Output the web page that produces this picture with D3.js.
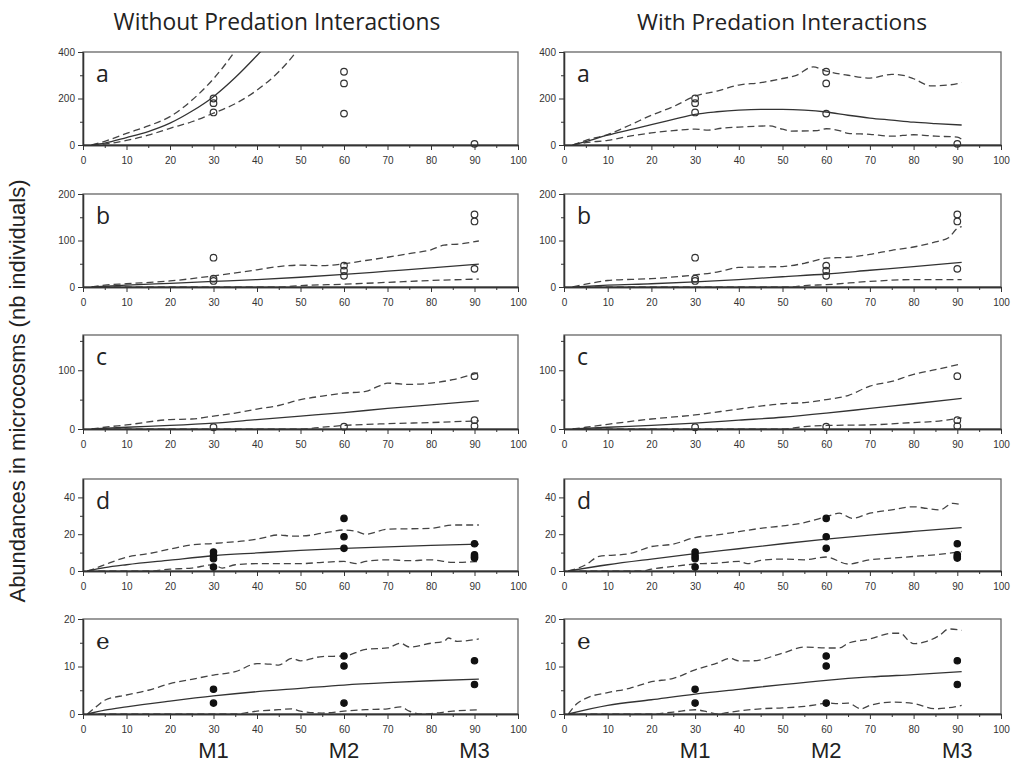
<!DOCTYPE html>
<html><head><meta charset="utf-8">
<script src="https://cdn.jsdelivr.net/npm/d3@7"></script>
<style>body{margin:0;background:#fff}svg{display:block}</style>
</head><body>
<svg id="chart" width="1011" height="764"></svg>
<script>
// ---------- data ----------
const panelLetters = ["a","b","c","d","e"];
const columnTitles = ["Without Predation Interactions","With Predation Interactions"];
const yAxisTitle = "Abundances in microcosms (nb individuals)";
const samplingLabels = ["M1","M2","M3"];
const samplingDays = [30,60,90];
const xMajorTicks = [0,10,20,30,40,50,60,70,80,90,100];
const xMinorTicks = [5,15,25,35,45,55,65,75,85,95];

const yMax = [400,200,160,50,20];
const yMajorTicks = [[0,200,400],[0,100,200],[0,100],[0,20,40],[0,10,20]];
const yMinorTicks = [[100,300],[50,150],[50,150],[10,30],[5,15]];

// panel a
const aNoMean  = [[2,0],[5,8],[10,32],[15,58],[20,94],[25,145],[30,208],[35,290],[40,385],[42,425]];
const aNoUpper = [[2,0],[5,16],[10,50],[15,82],[20,122],[25,192],[30,285],[35,405],[37,460]];
const aNoLower = [[2,0],[5,4],[10,20],[15,42],[20,72],[25,100],[30,137],[35,178],[40,236],[45,315],[49,400],[50,425]];
const aYesMean  = [[2,0],[5,15],[10,42],[15,65],[20,88],[25,110],[30,132],[35,143],[40,150],[45,153],[50,153],[55,150],[60,142],[65,128],[70,116],[75,107],[80,98],[85,92],[91,86]];
const aYesUpper = [[2,0],[5,20],[10,45],[15,85],[20,128],[25,165],[30,210],[35,232],[40,258],[45,268],[50,286],[53,298],[57,336],[60,318],[65,300],[70,288],[75,304],[78,298],[80,285],[84,254],[88,258],[91,268]];
const aYesLower = [[2,0],[5,10],[10,20],[15,38],[20,52],[25,62],[30,68],[33,64],[36,72],[40,77],[47,82],[50,68],[52,60],[58,62],[60,70],[63,62],[65,50],[70,46],[75,38],[80,44],[85,38],[90,34],[91,25]];
const obsA = [[30,200],[30,180],[30,140],[60,315],[60,265],[60,135],[90,5]];

// panel b
const bNoMean  = [[2,0],[10,4],[20,8],[30,12],[40,16],[50,21],[60,27],[70,34],[80,41],[91,49]];
const bNoUpper = [[2,0],[5,4],[10,7],[20,13],[30,24],[40,37],[45,44],[50,47],[55,46],[60,50],[65,57],[70,64],[75,72],[80,80],[83,90],[87,93],[91,99]];
const bNoLower = [[2,0],[45,0],[50,3],[60,6],[70,10],[80,14],[91,17]];
const bYesMean  = [[2,0],[10,4],[20,7],[30,11],[40,16],[50,22],[60,28],[70,36],[80,44],[91,53]];
const bYesUpper = [[2,0],[5,6],[10,14],[20,18],[30,26],[35,32],[40,42],[50,44],[55,51],[60,62],[65,64],[70,70],[75,79],[80,86],[85,97],[88,106],[90,126],[91,130]];
const bYesLower = [[2,0],[52,0],[55,3],[60,5],[70,12],[80,16],[91,16]];
const obsB = [[30,63],[30,18],[30,13],[60,46],[60,35],[60,24],[90,156],[90,141],[90,39]];

// panel c
const cNoMean  = [[2,0],[10,3],[20,6],[30,10],[40,16],[50,22],[60,28],[70,35],[80,41],[91,48]];
const cNoUpper = [[2,0],[5,3],[10,7],[20,16],[25,17],[30,22],[35,27],[40,34],[45,40],[50,50],[55,56],[60,61],[65,64],[68,73],[70,78],[75,76],[80,78],[85,84],[91,96]];
const cNoLower = [[2,0],[50,0],[55,3],[60,6],[70,9],[80,11],[91,14]];
const cYesMean  = [[2,0],[10,3],[20,6],[30,10],[40,15],[50,20],[60,27],[70,35],[80,43],[91,52]];
const cYesUpper = [[2,0],[5,3],[10,8],[20,17],[30,24],[40,34],[50,43],[55,45],[60,50],[65,57],[70,73],[75,81],[80,93],[85,101],[91,111]];
const cYesLower = [[2,0],[50,0],[55,4],[60,6],[70,7],[80,11],[85,13],[91,19]];
const obsC = [[30,3],[60,4],[90,90],[90,15],[90,5]];

// panel d
const dNoMean  = [[1,0],[5,1.8],[10,3.4],[20,5.9],[30,8.3],[40,9.8],[50,11.2],[60,12.3],[70,13.1],[80,13.9],[91,14.6]];
const dNoUpper = [[1,0],[3,1.6],[5,3.4],[10,7.5],[15,9.4],[20,11.9],[25,14.2],[30,15],[40,17.3],[45,19.6],[48,19],[50,19],[55,20.5],[60,22.3],[63,21.4],[65,20],[70,22.7],[80,23.2],[85,25],[91,25]];
const dNoLower = [[1,0],[15,0],[20,1],[25,1.6],[30,3.4],[32,1.6],[35,3.4],[40,4],[50,4],[55,4.7],[60,5.2],[63,4],[65,5.2],[70,6.1],[75,5.6],[80,6.1],[85,4.7],[91,5.2]];
const dYesMean  = [[1,0],[10,3.4],[20,6.5],[30,9.4],[40,12.1],[50,14.8],[60,17.3],[70,19.5],[80,21.5],[91,23.6]];
const dYesUpper = [[1,0],[5,3.4],[8,7.9],[15,9.4],[20,13.3],[25,14.6],[30,18.2],[35,19.6],[40,21.4],[45,23.2],[50,24.5],[55,26.3],[60,29.5],[63,31.4],[66,28.6],[70,31.4],[75,33.2],[80,34.9],[83,34],[86,33.2],[89,36.8],[91,36]];
const dYesLower = [[1,0],[18,0],[20,1],[25,2.5],[30,3.8],[35,4.3],[40,5.2],[42,4],[45,5.8],[50,6.5],[55,6.1],[60,7.6],[65,3.8],[70,6.1],[75,7],[80,7.9],[85,8.8],[91,10.6]];
const obsD = [[30,10.3],[30,8.3],[30,6.7],[30,2.2],[60,28.6],[60,18.6],[60,12.3],[90,14.8],[90,8.8],[90,7.8],[90,7]];

// panel e
const eNoMean  = [[1,0],[5,0.8],[10,1.5],[20,2.7],[30,3.8],[40,4.7],[50,5.4],[60,6.1],[70,6.6],[80,7],[91,7.35]];
const eNoUpper = [[1,0],[3,1.5],[5,2.9],[10,4],[15,5],[20,6.4],[25,7.3],[30,8.2],[35,8.9],[40,10.6],[43,10.5],[45,10.3],[48,11.7],[50,11.2],[55,12.1],[60,12.2],[65,13.6],[70,13.9],[73,14.9],[75,14.1],[80,14.9],[83,15.3],[84,16],[86,15.3],[91,15.8]];
const eNoLower = [[1,0],[35,0],[40,0.6],[45,0.9],[48,1.1],[50,0.6],[55,0.2],[60,0.6],[65,0.9],[70,1.1],[73,1.5],[75,0.6],[78,0],[80,0.1],[85,0.6],[91,0.9]];
const eYesMean  = [[1,0],[10,1.8],[20,3],[30,4.2],[40,5.2],[50,6.2],[60,7.1],[70,7.8],[80,8.3],[91,8.9]];
const eYesUpper = [[1,0],[3,2.2],[5,3.3],[10,4.5],[15,5.4],[20,6.8],[25,7.5],[30,9.3],[35,10.7],[38,11.7],[40,11.2],[43,11.2],[50,12.8],[55,14.1],[60,13.9],[63,13.9],[65,14.9],[70,15.8],[75,17],[77,17],[79,15.3],[80,14.8],[83,15.3],[86,16.6],[88,17.9],[91,17.6]];
const eYesLower = [[1,0],[20,0],[25,0.4],[30,0.9],[33,0.4],[35,0],[38,0.4],[45,1.1],[50,1.3],[55,1.6],[58,2],[60,2.3],[63,2.2],[65,2.3],[68,1.1],[70,1.8],[75,2.5],[80,2.2],[85,1.1],[91,1.8]];
const obsE = [[30,5.2],[30,2.3],[60,12.2],[60,10.1],[60,2.3],[90,11.2],[90,6.2]];

const series = [
  [[aNoMean,aNoUpper,aNoLower],[aYesMean,aYesUpper,aYesLower]],
  [[bNoMean,bNoUpper,bNoLower],[bYesMean,bYesUpper,bYesLower]],
  [[cNoMean,cNoUpper,cNoLower],[cYesMean,cYesUpper,cYesLower]],
  [[dNoMean,dNoUpper,dNoLower],[dYesMean,dYesUpper,dYesLower]],
  [[eNoMean,eNoUpper,eNoLower],[eYesMean,eYesUpper,eYesLower]]
];
const observed = [obsA,obsB,obsC,obsD,obsE];
const filledMarkers = [false,false,false,true,true];

// ---------- layout ----------
const svg = d3.select("#chart");
const colX = [[83,518],[564,1001]];
const rowY = [[52,145],[194,287],[335,429],[479,571],[619,714]];
const narrow = "'Liberation Sans Narrow','Arial Narrow','Liberation Sans',Arial,sans-serif";
const ink = "#333";

const line = d3.line().curve(d3.curveMonotoneX);

rowY.forEach((ry, r) => {
  colX.forEach((cx, c) => {
    const x = d3.scaleLinear().domain([0,100]).range(cx);
    const y = d3.scaleLinear().domain([0,yMax[r]]).range([ry[1], ry[0]]);
    const g = svg.append("g");
    const clipId = `clip${r}${c}`;
    svg.append("clipPath").attr("id", clipId).append("rect")
      .attr("x", cx[0]).attr("y", ry[0]).attr("width", cx[1]-cx[0]).attr("height", ry[1]-ry[0]);

    // frame
    g.append("rect").attr("x", cx[0]).attr("y", ry[0]).attr("width", cx[1]-cx[0]).attr("height", ry[1]-ry[0])
      .attr("fill","none").attr("stroke","#666").attr("stroke-width",1.3);

    // x axis
    const xMaj = g.append("g").attr("transform",`translate(0,${ry[1]})`)
      .call(d3.axisBottom(x).tickValues(xMajorTicks).tickSize(5).tickSizeOuter(0).tickPadding(7));
    const xMin = g.append("g").attr("transform",`translate(0,${ry[1]})`)
      .call(d3.axisBottom(x).tickValues(xMinorTicks).tickSize(3).tickFormat("").tickSizeOuter(0));
    // y axis
    const yMaj = g.append("g").attr("transform",`translate(${cx[0]},0)`)
      .call(d3.axisLeft(y).tickValues(yMajorTicks[r]).tickSize(5).tickSizeOuter(0).tickPadding(3));
    const yMin = g.append("g").attr("transform",`translate(${cx[0]},0)`)
      .call(d3.axisLeft(y).tickValues(yMinorTicks[r]).tickSize(3).tickFormat("").tickSizeOuter(0));
    [xMaj,xMin,yMaj,yMin].forEach(a => {
      a.selectAll("path").attr("stroke", ink).attr("stroke-width",1.3);
      a.selectAll("line").attr("stroke", ink).attr("stroke-width",1);
      a.selectAll("text").attr("fill", ink).style("font-family", narrow).style("font-size","10px");
    });

    // lines
    const [mean, upper, lower] = series[r][c];
    const lg = g.append("g").attr("clip-path", `url(#${clipId})`);
    [upper, lower].forEach(d => {
      lg.append("path").attr("d", line(d.map(p => [x(p[0]), y(p[1])])))
        .attr("fill","none").attr("stroke","#444").attr("stroke-width",1.3).attr("stroke-dasharray","7,4");
    });
    lg.append("path").attr("d", line(mean.map(p => [x(p[0]), y(p[1])])))
      .attr("fill","none").attr("stroke","#333").attr("stroke-width",1.3);

    // observed
    g.append("g").selectAll("circle").data(observed[r]).join("circle")
      .attr("cx", d => x(d[0])).attr("cy", d => y(d[1]))
      .attr("r", filledMarkers[r] ? 3.2 : 3.3)
      .attr("fill", filledMarkers[r] ? "#111" : "none")
      .attr("stroke", filledMarkers[r] ? "#111" : "#333").attr("stroke-width",1.2);

    // panel letter
    g.append("text").attr("x", cx[0]+13).attr("y", ry[0]+30)
      .text(panelLetters[r])
      .style("font-family", r === 4 ? "'DejaVu Serif','Liberation Serif',serif" : "'Open Sans',sans-serif")
      .style("font-size","23px").attr("fill","#222");

    // bottom sampling labels
    if (r === rowY.length-1) {
      samplingDays.forEach((dd, i) => {
        g.append("text").attr("x", x(dd)).attr("y", 758).attr("text-anchor","middle")
          .style("font-family", narrow).style("font-size","22px").attr("fill","#222")
          .text(samplingLabels[i]);
      });
    }
  });
});

// column titles
const titleCenters = [277, 782];
const titleWidths = [327, 290];
columnTitles.forEach((t, i) => {
  const tx = svg.append("text").attr("x", titleCenters[i]).attr("y", 30).attr("text-anchor","middle")
    .style("font-family","'Open Sans',sans-serif").style("font-size","21px").attr("fill","#222").text(t);
  const w = tx.node().getComputedTextLength();
  tx.style("font-size", (21*titleWidths[i]/w).toFixed(2)+"px");
});

// y axis title
const yt = svg.append("text").attr("transform","translate(25,391) rotate(-90)").attr("text-anchor","middle")
  .style("font-family","'Liberation Sans',Arial,sans-serif").style("font-size","20px").attr("fill","#222").text(yAxisTitle);
const yw = yt.node().getComputedTextLength();
yt.style("font-size", (20*423/yw).toFixed(2)+"px");
</script>
</body></html>
